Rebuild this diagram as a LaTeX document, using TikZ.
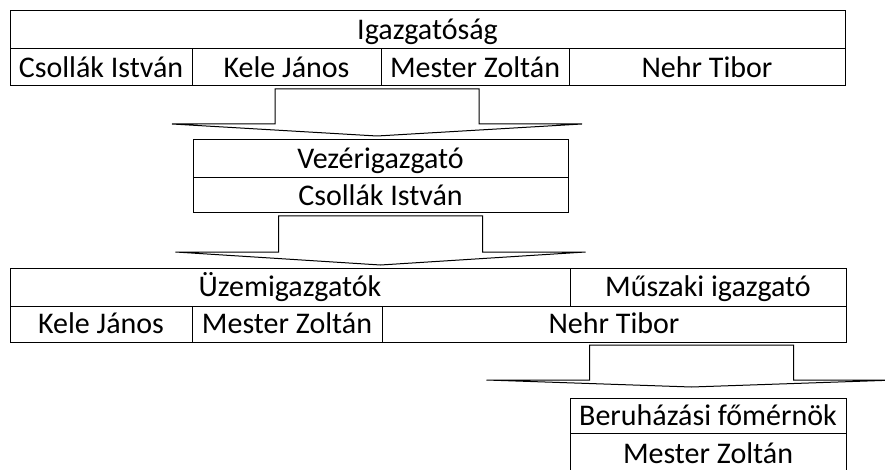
\documentclass[tikz,border=0pt]{standalone}
\usepackage{fontspec}
\setmainfont{Carlito}
\usepackage{tikz}
\usetikzlibrary{positioning}
\tikzstyle{cell}=[rectangle, draw=black, line width=1pt, inner sep=0pt, outer sep=0pt,
  text height=19.5pt, text depth=0pt, font=\fontsize{30}{34}\selectfont]
\tikzstyle{blockarrow}=[draw=black, line width=1pt, fill=white, line join=miter]

% block arrow: centre x, top y, shoulder y, tip y
\newcommand{\flowarrow}[4]{%
  \draw[blockarrow] (#1-102,#2) -- (#1+102,#2) -- (#1+102,#3) -- (#1+205,#3)
    -- (#1,#4) -- (#1-205,#3) -- (#1-102,#3) -- cycle;}

\begin{document}
\begin{tikzpicture}[x=1pt, y=-1pt]
    \useasboundingbox (0,0) rectangle (885,470);
    \clip (0,0) rectangle (885,470);

    \node[cell, anchor=north west, minimum width=835pt, minimum height=38pt] (igazg) at (10,11) {Igazgatóság};
    \node[cell, minimum width=182pt, minimum height=37pt, below right=0pt and 0pt of igazg.south west] (ig1) {Csollák István};
    \node[cell, minimum width=189pt, minimum height=37pt, right=0pt of ig1] (ig2) {Kele János};
    \node[cell, minimum width=188pt, minimum height=37pt, right=0pt of ig2] (ig3) {Mester Zoltán};
    \node[cell, minimum width=276pt, minimum height=37pt, right=0pt of ig3] (ig4) {Nehr Tibor};

    \flowarrow{377}{89}{124}{136}

    \node[cell, anchor=north west, minimum width=375pt, minimum height=38pt] (vezer) at (193,140) {Vezérigazgató};
    \node[cell, minimum width=375pt, minimum height=35pt, below=0pt of vezer] (vez1) {Csollák István};

    \flowarrow{380.5}{216}{252}{265}

    \node[cell, anchor=north west, minimum width=560pt, minimum height=38pt] (uzem) at (10,268) {Üzemigazgatók};
    \node[cell, minimum width=276pt, minimum height=38pt, right=0pt of uzem] (muszaki) {Műszaki igazgató};
    \node[cell, minimum width=182pt, minimum height=36pt, below right=0pt and 0pt of uzem.south west] (uz1) {Kele János};
    \node[cell, minimum width=190pt, minimum height=36pt, right=0pt of uz1] (uz2) {Mester Zoltán};
    \node[cell, minimum width=464pt, minimum height=36pt, right=0pt of uz2] (mu1) {Nehr Tibor};

    \flowarrow{691.5}{345}{380}{387}

    \node[cell, anchor=north west, minimum width=276pt, minimum height=35pt] (beruh) at (570,398) {Beruházási főmérnök};
    \node[cell, minimum width=276pt, minimum height=42pt, below=0pt of beruh] (ber1) {Mester Zoltán};
\end{tikzpicture}
\end{document}
